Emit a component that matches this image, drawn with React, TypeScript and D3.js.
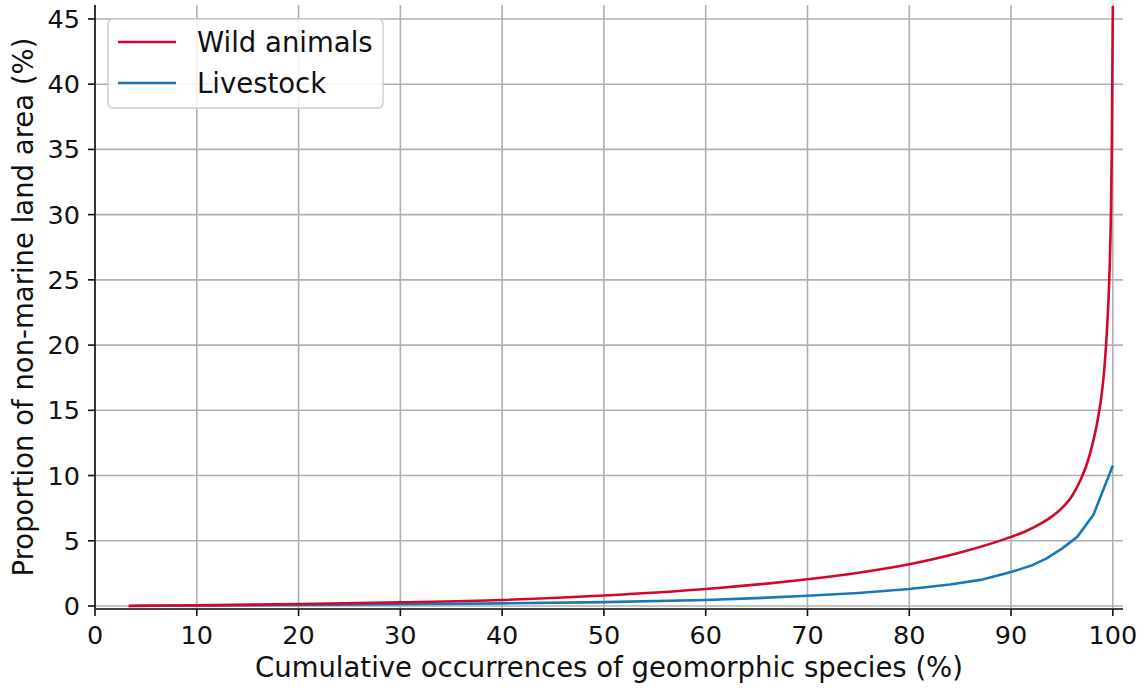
import * as d3 from "d3";

// cumulative occurrences (%) vs proportion of non-marine land area (%)
const wildX = [3.3, 10, 20, 30, 40, 50, 60, 70, 75, 80, 85, 90, 91.5, 93, 94, 95, 96, 96.9, 97.5, 98, 98.5, 98.9, 99.2, 99.45, 99.65, 99.8, 99.9, 100];
const wildY = [0.01, 0.05, 0.15, 0.28, 0.46, 0.8, 1.3, 2.05, 2.55, 3.2, 4.1, 5.3, 5.75, 6.35, 6.85, 7.5, 8.45, 9.8, 11.0, 12.4, 14.2, 16.2, 18.5, 21.5, 25, 29.5, 35, 46];

const stockX = [3.9, 10, 20, 30, 40, 50, 60, 65, 70, 75, 80, 84, 87, 90, 92, 93.5, 95, 96.5, 98.1, 100];
const stockY = [0.02, 0.04, 0.08, 0.13, 0.2, 0.3, 0.46, 0.6, 0.78, 1.0, 1.3, 1.65, 2.0, 2.6, 3.1, 3.65, 4.4, 5.3, 7.0, 10.77];

const xTicks = [0, 10, 20, 30, 40, 50, 60, 70, 80, 90, 100];
const yTicks = [0, 5, 10, 15, 20, 25, 30, 35, 40, 45];

const seriesNames = ["Wild animals", "Livestock"];
const seriesColors = ["#d4062a", "#1878b8"];

const W = 1148;
const H = 692;
const FONT = "DejaVu Sans, sans-serif";
const TICK_FS = 25.5;
const LABEL_FS = 27.5;

export default function App() {
  const x = d3.scaleLinear().domain([0, 101]).range([95, 1123]);
  const y = d3.scaleLinear().domain([-0.23, 46.07]).range([609, 5]);

  const wild = wildX.map((v, i) => [v, wildY[i]] as [number, number]);
  const stock = stockX.map((v, i) => [v, stockY[i]] as [number, number]);

  const smooth = d3.line<[number, number]>().x((d) => x(d[0])).y((d) => y(d[1])).curve(d3.curveMonotoneX);
  const straight = d3.line<[number, number]>().x((d) => x(d[0])).y((d) => y(d[1]));

  const [x0, x1] = x.range();
  const [yb, yt] = y.range();

  return (
    <svg width={W} height={H} style={{ position: "absolute", left: 0, top: 0, background: "#fff" }} fontFamily={FONT}>
      {/* grid */}
      <g stroke="#b0b0b0" strokeWidth={1.6}>
        {xTicks.map((t) => (
          <line key={"gx" + t} x1={x(t)} x2={x(t)} y1={yt} y2={yb} />
        ))}
        {yTicks.map((t) => (
          <line key={"gy" + t} x1={x0} x2={x1} y1={y(t)} y2={y(t)} />
        ))}
      </g>

      {/* curves */}
      <path d={straight(stock) ?? ""} fill="none" stroke={seriesColors[1]} strokeWidth={2.6} strokeLinejoin="round" />
      <path d={smooth(wild) ?? ""} fill="none" stroke={seriesColors[0]} strokeWidth={2.6} strokeLinejoin="round" />

      {/* spines */}
      <line x1={x0} x2={x0} y1={yt} y2={yb} stroke="#111" strokeWidth={1.6} />
      <line x1={x0} x2={x1} y1={yb} y2={yb} stroke="#444" strokeWidth={2.2} />

      {/* x axis */}
      {xTicks.map((t) => (
        <g key={"xt" + t}>
          <line x1={x(t)} x2={x(t)} y1={yb} y2={yb + 7} stroke="#111" strokeWidth={1.6} />
          <text x={x(t)} y={yb + 26} textAnchor="middle" dominantBaseline="central" fontSize={TICK_FS} fill="#111">
            {t}
          </text>
        </g>
      ))}
      <text x={(x0 + x1) / 2} y={667} textAnchor="middle" dominantBaseline="central" fontSize={LABEL_FS} fill="#111">
        Cumulative occurrences of geomorphic species (%)
      </text>

      {/* y axis */}
      {yTicks.map((t) => (
        <g key={"yt" + t}>
          <line x1={x0 - 7} x2={x0} y1={y(t)} y2={y(t)} stroke="#111" strokeWidth={1.6} />
          <text x={x0 - 15} y={y(t)} textAnchor="end" dominantBaseline="central" fontSize={TICK_FS} fill="#111">
            {t}
          </text>
        </g>
      ))}
      <text
        transform={`translate(23,${(yt + yb) / 2}) rotate(-90)`}
        textAnchor="middle"
        dominantBaseline="central"
        fontSize={LABEL_FS}
        fill="#111"
      >
        Proportion of non-marine land area (%)
      </text>

      {/* legend */}
      <g transform="translate(108,19)">
        <rect x={0} y={0} width={275} height={89} rx={5} fill="#fff" fillOpacity={0.85} stroke="#cccccc" strokeWidth={1.4} />
        {seriesNames.map((name, i) => (
          <g key={name} transform={`translate(0,${23 + i * 41})`}>
            <line x1={10} x2={68} y1={0} y2={0} stroke={seriesColors[i]} strokeWidth={2.6} />
            <text x={89} y={0} dominantBaseline="central" fontSize={LABEL_FS} fill="#111">
              {name}
            </text>
          </g>
        ))}
      </g>
    </svg>
  );
}
